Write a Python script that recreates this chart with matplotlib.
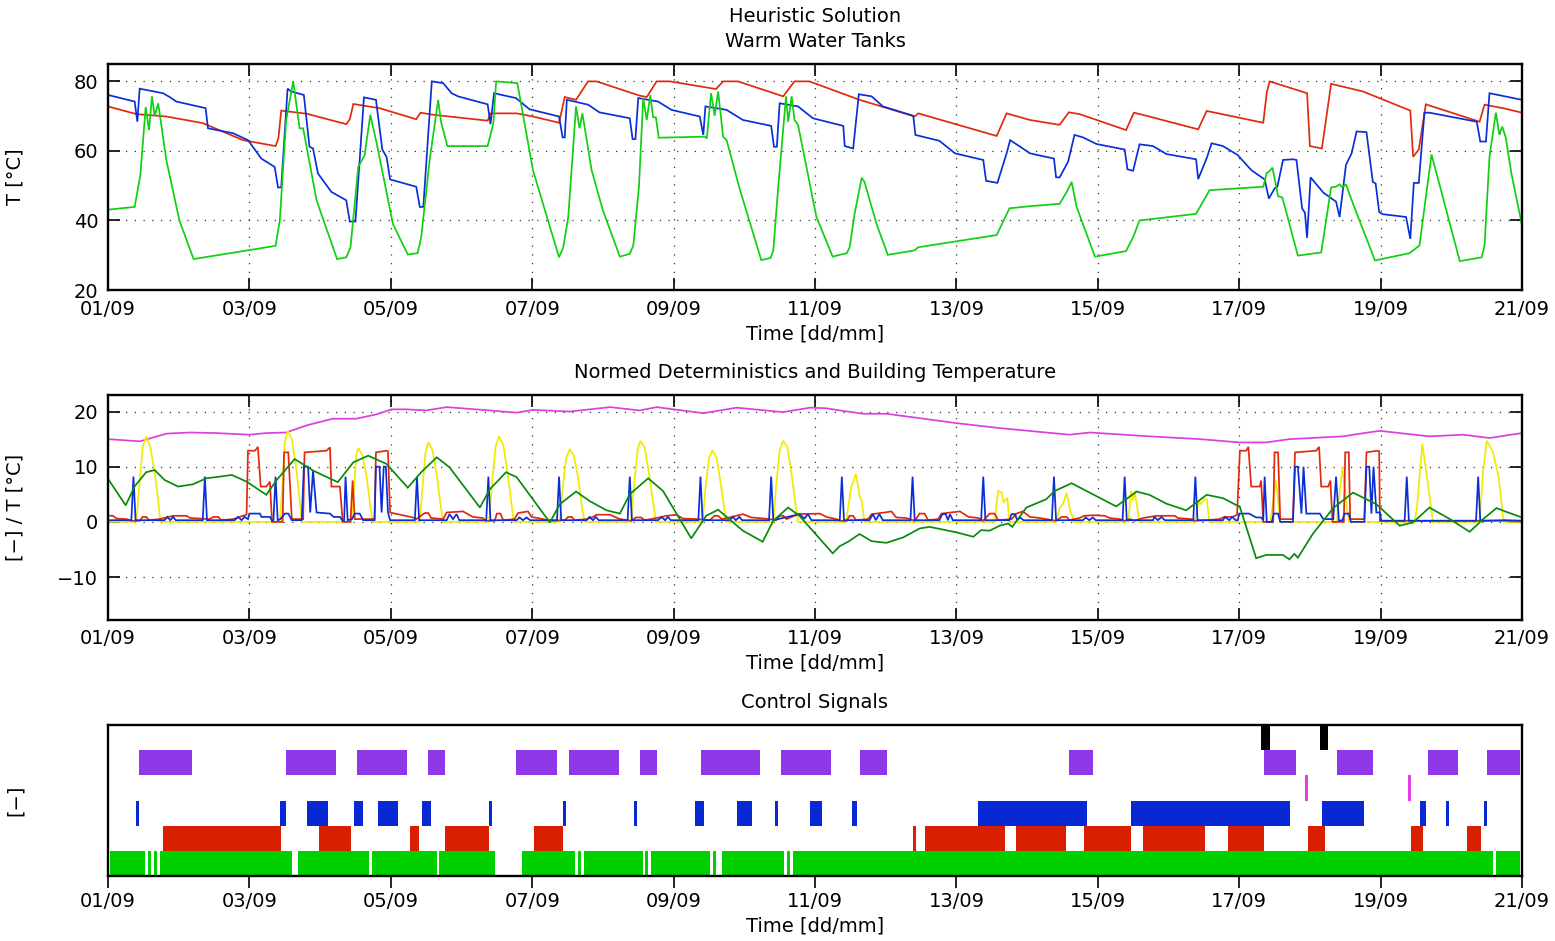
import matplotlib
matplotlib.use("Agg")
import matplotlib.pyplot as plt
import numpy as np

plt.rcParams['font.family'] = ['DejaVu Sans']
plt.rcParams['axes.unicode_minus'] = True

# ---------------------------------------------------------------- data
# time axis: days since 01/09
tick_days = [0, 2, 4, 6, 8, 10, 12, 14, 16, 18, 20]
tick_labels = ['01/09', '03/09', '05/09', '07/09', '09/09', '11/09',
               '13/09', '15/09', '17/09', '19/09', '21/09']

# warm water tanks [°C]
tank_red = [(0, 72.8), (0.40, 70.6), (0.825, 69.9), (1.34, 68.0), (1.91, 63.1), (2.37, 61.4),
            (2.41, 63.6), (2.45, 71.6), (2.81, 70.7), (3.37, 67.7), (3.42, 69.1), (3.47, 73.5),
            (3.84, 72.3), (4.36, 69.1), (4.42, 71.0), (4.6, 70.4), (5.37, 68.7), (5.41, 70.8),
            (5.78, 70.8), (6.01, 69.9), (6.38, 68.1), (6.46, 75.5), (6.62, 74.7), (6.79, 80),
            (6.91, 80), (7.52, 75.9), (7.62, 75.5), (7.76, 80), (7.95, 80), (8.6, 77.8),
            (8.7, 80), (8.91, 80), (9.55, 75.7), (9.71, 80), (9.92, 80), (10.63, 74.7),
            (11.41, 69.9), (11.46, 70.8), (12.57, 64.3), (12.71, 70.8), (13.04, 68.9),
            (13.46, 67.5), (13.59, 71.1), (13.74, 70.6), (14.4, 66.0), (14.51, 71.0),
            (14.69, 70.1), (15.42, 66.2), (15.54, 71.5), (16.34, 68.1), (16.39, 76.8),
            (16.43, 80), (16.96, 76.6), (17.0, 61.4), (17.17, 60.7), (17.3, 79.3),
            (17.75, 77.1), (18.42, 71.6), (18.46, 58.3), (18.54, 60.4), (18.64, 73.4),
            (19.4, 68.4), (19.47, 73.3), (19.73, 72.3), (20.0, 71.0)]

tank_blue = [(0, 76.1), (0.377, 74.2), (0.415, 68.4), (0.448, 77.9), (0.778, 76.6), (0.872, 75.5),
             (0.967, 74.2), (1.381, 72.3), (1.414, 66.5), (1.768, 65.1), (1.98, 63.1), (2.169, 57.8),
             (2.357, 55.4), (2.405, 49.5), (2.45, 49.5), (2.54, 77.9), (2.59, 77.1), (2.77, 76.1),
             (2.85, 61.2), (2.90, 60.7), (2.97, 53.5), (3.16, 48.2), (3.37, 45.8), (3.42, 39.7),
             (3.50, 39.7), (3.62, 75.4), (3.79, 74.7), (3.88, 60.4), (3.94, 58.3), (3.99, 51.8),
             (4.36, 49.7), (4.41, 43.9), (4.46, 43.9), (4.58, 80), (4.74, 79.5), (4.86, 76.6),
             (4.95, 75.7), (5.37, 73.4), (5.41, 67.7), (5.46, 76.6), (5.77, 75.2), (5.96, 72.0),
             (6.38, 69.9), (6.43, 63.9), (6.46, 63.9), (6.49, 74.7), (6.79, 73.3), (6.95, 71.1),
             (7.38, 69.4), (7.42, 63.4), (7.46, 63.4), (7.50, 75.2), (7.78, 74.2), (7.97, 71.8),
             (8.37, 69.9), (8.42, 64.6), (8.45, 72.8), (8.75, 71.8), (8.98, 68.9), (9.38, 67.2),
             (9.42, 61.2), (9.46, 61.2), (9.50, 73.7), (9.76, 72.8), (9.97, 69.4), (10.4, 67.2),
             (10.42, 61.4), (10.54, 60.7), (10.62, 76.3), (10.8, 75.7), (10.96, 72.8),
             (11.39, 70.1), (11.42, 64.6), (11.76, 62.9), (11.98, 59.3), (12.38, 57.4),
             (12.42, 51.4), (12.58, 50.8), (12.71, 59.3), (12.76, 63.1), (12.94, 60.7),
             (13.04, 59.3), (13.38, 57.8), (13.41, 52.4), (13.46, 52.4), (13.58, 56.9),
             (13.67, 64.6), (13.79, 63.9), (13.98, 62.0), (14.38, 60.4), (14.42, 54.7),
             (14.5, 54.3), (14.59, 61.9), (14.78, 61.4), (14.97, 59.1), (15.39, 57.6),
             (15.42, 51.9), (15.54, 57.9), (15.61, 62.2), (15.77, 61.4), (15.98, 58.8),
             (16.17, 54.5), (16.36, 51.8), (16.42, 46.3), (16.5, 49.2), (16.54, 49.7),
             (16.62, 57.4), (16.76, 57.6), (16.81, 57.4), (16.89, 43.5), (16.93, 42.2),
             (16.96, 35.0), (17.01, 52.4), (17.19, 48.0), (17.37, 45.4), (17.42, 41.0),
             (17.51, 56.0), (17.59, 59.3), (17.66, 65.6), (17.8, 65.4), (17.89, 51.1),
             (17.93, 50.6), (17.98, 42.4), (18.03, 41.8), (18.36, 41.0), (18.42, 34.7),
             (18.47, 50.8), (18.54, 50.8), (18.62, 71.0), (18.69, 71.0), (19.36, 68.4),
             (19.41, 62.7), (19.49, 62.7), (19.54, 76.6), (20.0, 74.7)]

tank_green = [(0, 43.1), (0.377, 43.9), (0.457, 53.0), (0.533, 72.6), (0.58, 66.0), (0.622, 75.7),
              (0.66, 70.1), (0.71, 73.7), (0.825, 57.4), (1.01, 40.0), (1.21, 28.9), (2.37, 32.7),
              (2.43, 40.0), (2.52, 68.9), (2.62, 80), (2.71, 66.5), (2.76, 66.5), (2.95, 45.8),
              (3.24, 28.9), (3.37, 29.4), (3.43, 32.3), (3.54, 55.4), (3.63, 58.8), (3.71, 70.4),
              (3.80, 62.2), (4.03, 39.0), (4.24, 30.2), (4.38, 30.6), (4.43, 35.2), (4.55, 57.4),
              (4.67, 74.7), (4.71, 68.4), (4.80, 61.4), (5.37, 61.4), (5.45, 67.9), (5.49, 80),
              (5.79, 79.5), (6.01, 54.5), (6.38, 29.4), (6.44, 32.3), (6.51, 41.0), (6.62, 72.8),
              (6.67, 66.5), (6.71, 70.8), (6.84, 54.5), (7.0, 42.9), (7.24, 29.6), (7.38, 30.4),
              (7.43, 32.8), (7.51, 49.7), (7.57, 75.2), (7.62, 68.9), (7.67, 76.1), (7.71, 69.7),
              (7.75, 69.6), (7.79, 63.8), (8.44, 64.1), (8.47, 63.6), (8.53, 76.6), (8.58, 70.1),
              (8.63, 77.1), (8.7, 64.1), (8.75, 63.1), (8.94, 48.7), (9.24, 28.6), (9.37, 29.2),
              (9.41, 31.3), (9.48, 49.7), (9.59, 75.7), (9.62, 68.4), (9.67, 75.7), (9.71, 68.9),
              (9.76, 67.5), (10.02, 41.0), (10.25, 29.6), (10.45, 30.6), (10.49, 32.3),
              (10.56, 41.9), (10.66, 52.3), (10.7, 51.1), (10.87, 39.0), (11.03, 30.1),
              (11.41, 31.4), (11.46, 32.3), (12.57, 35.8), (12.75, 43.5), (13.04, 44.1),
              (13.46, 44.8), (13.56, 48.2), (13.63, 51.1), (13.7, 43.9), (13.96, 29.6),
              (14.4, 31.2), (14.5, 35.2), (14.59, 40.0), (15.39, 41.9), (15.58, 48.7),
              (16.34, 49.7), (16.39, 53.7), (16.42, 54.0), (16.47, 55.2), (16.55, 47.0),
              (16.61, 46.6), (16.83, 29.9), (17.16, 30.8), (17.3, 49.5), (17.37, 49.7),
              (17.42, 50.4), (17.46, 49.5), (17.51, 50.4), (17.61, 44.8), (17.92, 28.5),
              (18.41, 30.6), (18.55, 32.8), (18.72, 59.0), (19.12, 28.3), (19.43, 29.4),
              (19.47, 32.8), (19.54, 58.3), (19.63, 71.0), (19.68, 64.6), (19.72, 67.0),
              (19.77, 63.9), (19.85, 53.5), (20.0, 38.6)]

# normed deterministics [-] and building temperature [°C]
building_temp = [(0, 15.0), (0.45, 14.6), (0.83, 16.0), (1.16, 16.2), (1.53, 16.1), (2.0, 15.8),
                 (2.24, 16.1), (2.52, 16.2), (2.81, 17.5), (3.18, 18.7), (3.51, 18.7), (3.8, 19.5),
                 (4.01, 20.4), (4.22, 20.4), (4.5, 20.2), (4.79, 20.8), (5.30, 20.3), (5.78, 19.8),
                 (6.01, 20.3), (6.53, 20.0), (7.1, 20.8), (7.52, 20.2), (7.76, 20.8), (8.42, 19.7),
                 (8.89, 20.7), (9.55, 19.9), (9.93, 20.7), (10.16, 20.6), (10.3, 20.3),
                 (10.68, 19.6), (11.01, 19.6), (12.0, 17.9), (12.61, 17.0), (13.6, 15.8),
                 (13.89, 16.2), (14.73, 15.5), (15.44, 15.0), (16.01, 14.4), (16.38, 14.4),
                 (16.71, 15.0), (17.47, 15.5), (17.66, 15.9), (17.99, 16.5), (18.69, 15.5),
                 (19.17, 15.8), (19.54, 15.2), (20.0, 16.1)]

outdoor_temp = [(0, 7.8), (0.25, 3.0), (0.38, 6.5), (0.54, 9.0), (0.66, 9.4), (0.80, 7.6),
                (0.99, 6.4), (1.2, 6.8), (1.39, 7.9), (1.58, 8.2), (1.75, 8.5), (1.96, 7.3),
                (2.24, 4.9), (2.38, 7.5), (2.64, 11.4), (2.9, 9.3), (3.25, 7.2), (3.47, 10.8),
                (3.68, 12.0), (3.94, 10.5), (4.24, 6.2), (4.43, 9.0), (4.65, 11.7), (4.83, 9.9),
                (5.26, 2.6), (5.4, 5.9), (5.63, 9.0), (5.78, 8.1), (6.25, -0.1), (6.39, 3.2),
                (6.62, 5.5), (6.81, 3.8), (7.05, 2.1), (7.24, 1.5), (7.38, 5.0), (7.64, 7.9),
                (7.85, 5.6), (8.25, -3.0), (8.46, 1.1), (8.63, 2.2), (8.98, -1.6), (9.26, -3.6),
                (9.41, 0.2), (9.62, 2.6), (9.78, 1.1), (10.25, -5.7), (10.35, -4.4),
                (10.47, -3.6), (10.63, -2.2), (10.8, -3.5), (11.01, -3.8), (11.25, -2.8),
                (11.48, -1.2), (11.62, -0.9), (12.0, -1.9), (12.24, -2.7), (12.35, -1.5),
                (12.47, -1.6), (12.61, -0.7), (12.73, -0.3), (12.79, -0.9), (12.99, 2.6),
                (13.27, 4.1), (13.39, 5.6), (13.63, 7.0), (13.93, 5.0), (14.26, 2.8),
                (14.55, 5.5), (14.73, 4.9), (14.97, 3.3), (15.25, 2.1), (15.54, 4.9),
                (15.77, 4.3), (16.01, 2.7), (16.24, -6.6), (16.38, -6.0), (16.62, -6.0),
                (16.71, -6.8), (16.78, -5.8), (16.83, -6.5), (17.04, -2.2), (17.33, 2.5),
                (17.61, 5.3), (17.94, 3.2), (18.27, -0.7), (18.46, -0.1), (18.69, 2.6),
                (18.98, 0.5), (19.26, -1.8), (19.45, 0.5), (19.64, 2.5), (19.76, 1.9),
                (20.0, 0.8)]

solar_norm = [(0, 0), (0.40, 0), (0.44, 6.0), (0.49, 13.5), (0.54, 15.5), (0.60, 13.5), (0.66, 9.0),
              (0.71, 4.0), (0.74, 0),
              (2.43, 0), (2.47, 7.0), (2.50, 14.5), (2.54, 16.5), (2.60, 15.0), (2.66, 10.0),
              (2.71, 4.0), (2.74, 0),
              (3.44, 0), (3.48, 6.0), (3.51, 12.0), (3.54, 13.4), (3.60, 12.0), (3.66, 8.0),
              (3.71, 3.0), (3.74, 0),
              (4.41, 0), (4.45, 6.5), (4.49, 12.5), (4.53, 14.4), (4.59, 13.0), (4.65, 8.5),
              (4.70, 3.5), (4.74, 0),
              (5.39, 0), (5.43, 6.5), (5.48, 13.5), (5.53, 15.5), (5.59, 14.0), (5.65, 9.0),
              (5.70, 4.0), (5.74, 0),
              (6.39, 0), (6.43, 6.0), (6.48, 11.5), (6.53, 13.2), (6.59, 12.0), (6.65, 8.0),
              (6.70, 3.0), (6.74, 0),
              (7.40, 0), (7.44, 6.5), (7.49, 13.0), (7.53, 14.7), (7.59, 13.5), (7.65, 9.0),
              (7.71, 3.5), (7.75, 0),
              (8.41, 0), (8.45, 6.0), (8.50, 11.5), (8.55, 13.0), (8.61, 11.5), (8.66, 7.5),
              (8.71, 3.0), (8.74, 0),
              (9.41, 0), (9.45, 6.5), (9.50, 13.0), (9.55, 14.7), (9.61, 13.5), (9.67, 8.5),
              (9.72, 3.5), (9.76, 0),
              (10.44, 0), (10.51, 6.2), (10.58, 8.7), (10.63, 4.7), (10.66, 3.8), (10.70, 0),
              (12.54, 0), (12.59, 5.6), (12.64, 5.3), (12.67, 3.5), (12.72, 4.4), (12.75, 0),
              (13.41, 0), (13.46, 2.5), (13.51, 3.3), (13.56, 5.3), (13.61, 2.0), (13.67, 0),
              (14.43, 0), (14.47, 5.6), (14.50, 3.8), (14.52, 5.6), (14.58, 0.8), (14.59, 0),
              (15.37, 0), (15.43, 3.8), (15.46, 3.2), (15.51, 4.1), (15.54, 4.1), (15.58, 0),
              (16.44, 0), (16.52, 7.5), (16.58, 0),
              (17.38, 0), (17.46, 10.0), (17.52, 3.0), (17.55, 0),
              (18.48, 0), (18.51, 2.0), (18.59, 14.2), (18.67, 6.8), (18.74, 0),
              (19.40, 0), (19.45, 9.0), (19.50, 14.7), (19.59, 12.7), (19.67, 8.1), (19.74, 0),
              (20.0, 0)]

demand_red = [(0, 1.1), (0.07, 1.1), (0.12, 0.6), (0.26, 0.5), (0.33, 0.2), (0.45, 0.2), (0.49, 0.9),
              (0.54, 0.9), (0.58, 0.3), (0.73, 0.5), (0.92, 1.1), (1.11, 1.1), (1.16, 0.7),
              (1.44, 0.5), (1.49, 0.9), (1.56, 0.9), (1.6, 0.3), (1.77, 0.5), (1.86, 0.9),
              (1.96, 1.3), (1.98, 12.9), (2.08, 12.9), (2.12, 13.6), (2.16, 6.4), (2.24, 6.4),
              (2.29, 7.3), (2.32, 0.0), (2.47, 0.0), (2.49, 12.6), (2.55, 12.6), (2.6, 0.5),
              (2.76, 0.5), (2.78, 12.6), (3.09, 12.9), (3.14, 13.5), (3.16, 6.4), (3.28, 6.4),
              (3.32, 0.0), (3.43, 0.0), (3.46, 7.5), (3.49, 0.5), (3.77, 0.5), (3.79, 12.6),
              (3.94, 12.9), (3.96, 12.8), (3.99, 1.7), (4.31, 0.8), (4.36, 0.5), (4.48, 1.6),
              (4.53, 1.6), (4.57, 0.7), (4.74, 0.5), (4.79, 1.7), (5.02, 1.9), (5.16, 0.9),
              (5.3, 0.7), (5.35, 0.2), (5.47, 0.2), (5.5, 1.5), (5.55, 1.5), (5.59, 0.3),
              (5.75, 0.5), (5.8, 1.6), (5.94, 1.9), (5.99, 0.9), (6.15, 0.5), (6.25, 0.2),
              (6.46, 0.3), (6.51, 0.9), (6.56, 0.9), (6.6, 0.3), (6.77, 0.5), (6.86, 0.9),
              (6.91, 1.3), (7.1, 1.3), (7.24, 0.5), (7.4, 0.2), (7.47, 0.8), (7.54, 0.8),
              (7.59, 0.3), (7.76, 0.7), (7.9, 1.1), (8.04, 1.3), (8.13, 0.6), (8.32, 0.5),
              (8.51, 0.3), (8.58, 1.1), (8.63, 1.1), (8.68, 0.5), (8.79, 0.8), (8.98, 1.4),
              (9.1, 0.8), (9.29, 0.6), (9.45, 0.3), (9.5, 1.1), (9.55, 1.1), (9.6, 0.5),
              (9.76, 1.4), (10.07, 1.5), (10.16, 0.9), (10.3, 0.5), (10.35, 0.2), (10.45, 0.2),
              (10.49, 1.1), (10.54, 1.1), (10.58, 0.3), (10.75, 0.5), (10.8, 1.4), (10.99, 1.7),
              (11.08, 1.9), (11.15, 0.8), (11.29, 0.7), (11.41, 0.2), (11.48, 1.5), (11.55, 1.5),
              (11.6, 0.3), (11.74, 0.5), (11.79, 1.5), (12.05, 1.9), (12.17, 0.9), (12.31, 0.7),
              (12.38, 0.2), (12.47, 1.5), (12.54, 1.5), (12.59, 0.3), (12.78, 0.5), (12.85, 1.5),
              (12.94, 1.9), (13.04, 0.9), (13.18, 0.7), (13.41, 0.2), (13.49, 0.9), (13.56, 0.9),
              (13.6, 0.3), (13.74, 0.7), (13.81, 1.1), (13.93, 1.2), (14.1, 1.1), (14.17, 0.7),
              (14.31, 0.5), (14.38, 0.2), (14.45, 0.5), (14.52, 0.2), (14.64, 0.7), (14.83, 1.1),
              (15.09, 1.1), (15.13, 0.7), (15.32, 0.5), (15.37, 0.2), (15.54, 0.3), (15.72, 0.5),
              (15.79, 0.9), (15.91, 0.9), (15.97, 1.3), (16.01, 12.9), (16.1, 12.9),
              (16.13, 13.6), (16.17, 6.4), (16.29, 6.4), (16.31, 7.5), (16.34, 0.0), (16.48, 0.0),
              (16.5, 12.6), (16.55, 12.6), (16.58, 0.5), (16.76, 0.5), (16.79, 12.6),
              (17.09, 12.9), (17.13, 13.6), (17.16, 6.4), (17.26, 6.4), (17.29, 7.5), (17.32, 0.0),
              (17.48, 0.0), (17.5, 12.6), (17.55, 12.6), (17.57, 0.5), (17.77, 0.5), (17.8, 12.6),
              (17.95, 12.9), (17.98, 12.8), (17.99, 0.2), (20.0, 0.2)]

demand_blue = [(0, 0.3), (0.33, 0.3), (0.36, 8.2), (0.39, 0.3), (0.80, 0.3), (0.84, 0.9), (0.88, 0.3),
               (0.92, 0.9), (0.96, 0.3), (1.34, 0.3), (1.37, 8.2), (1.40, 0.3), (1.79, 0.3),
               (1.84, 0.9), (1.89, 0.3), (1.93, 0.9), (1.98, 0.5), (2.0, 1.5), (2.15, 1.5),
               (2.17, 0.9), (2.29, 0.9), (2.32, 0.2), (2.34, 0.3), (2.37, 8.2), (2.40, 0.3),
               (2.44, 0.5), (2.5, 1.5), (2.55, 1.5), (2.6, 0.3), (2.74, 0.3), (2.77, 10.0),
               (2.83, 10.0), (2.86, 1.7), (2.9, 9.3), (2.95, 1.7), (3.14, 1.5), (3.19, 0.9),
               (3.28, 0.9), (3.32, 0.2), (3.34, 0.3), (3.36, 8.2), (3.39, 0.3), (3.45, 0.5),
               (3.49, 1.5), (3.56, 1.5), (3.61, 0.3), (3.77, 0.3), (3.79, 10.0), (3.84, 10.0),
               (3.87, 1.7), (3.9, 10.0), (3.93, 10.0), (3.96, 1.7), (3.99, 0.3), (4.34, 0.3),
               (4.37, 8.2), (4.40, 0.3), (4.79, 0.3), (4.83, 1.4), (4.88, 0.5), (4.93, 1.4),
               (4.97, 0.3), (5.35, 0.3), (5.38, 8.2), (5.41, 0.3), (5.78, 0.3), (5.82, 0.8),
               (5.87, 0.3), (5.92, 0.8), (5.97, 0.3), (6.35, 0.3), (6.38, 8.2), (6.41, 0.3),
               (6.77, 0.3), (6.81, 0.9), (6.86, 0.3), (6.9, 0.9), (6.94, 0.3), (7.35, 0.3),
               (7.38, 8.2), (7.41, 0.3), (7.78, 0.3), (7.83, 0.9), (7.88, 0.3), (7.92, 0.9),
               (7.96, 0.3), (8.35, 0.3), (8.38, 8.2), (8.41, 0.3), (8.79, 0.3), (8.84, 0.9),
               (8.88, 0.3), (8.93, 0.9), (8.97, 0.3), (9.35, 0.3), (9.38, 8.2), (9.41, 0.3),
               (9.78, 1.4), (9.85, 0.6), (9.9, 1.4), (9.95, 0.3), (10.35, 0.3), (10.38, 8.2),
               (10.41, 0.3), (10.77, 0.3), (10.82, 1.4), (10.86, 0.3), (10.91, 1.4), (10.96, 0.3),
               (11.35, 0.3), (11.38, 8.2), (11.41, 0.3), (11.76, 0.3), (11.8, 1.4), (11.85, 1.4),
               (11.88, 0.3), (11.91, 1.4), (11.95, 0.3), (12.35, 0.3), (12.38, 8.2), (12.41, 0.3),
               (12.75, 0.3), (12.78, 1.4), (12.83, 1.4), (12.86, 0.3), (12.9, 0.8), (12.95, 0.3),
               (13.35, 0.3), (13.38, 8.2), (13.41, 0.3), (13.79, 0.3), (13.83, 0.8), (13.88, 0.3),
               (13.93, 0.8), (13.97, 0.3), (14.35, 0.3), (14.38, 8.2), (14.41, 0.3), (14.78, 0.3),
               (14.8, 0.9), (14.85, 0.3), (14.9, 0.9), (14.95, 0.3), (15.35, 0.3), (15.38, 8.2),
               (15.41, 0.3), (15.77, 0.3), (15.8, 0.9), (15.86, 0.3), (15.9, 0.9), (15.95, 0.3),
               (15.98, 0.3), (16.0, 1.5), (16.14, 1.5), (16.24, 0.8), (16.31, 0.8), (16.34, 0.3),
               (16.36, 8.2), (16.39, 0.0), (16.46, 0.0), (16.49, 1.5), (16.55, 1.5), (16.58, 0.0),
               (16.76, 0.0), (16.79, 10.0), (16.83, 10.0), (16.88, 1.5), (16.91, 10.0),
               (16.95, 1.5), (17.14, 1.5), (17.19, 0.5), (17.33, 0.5), (17.37, 8.2), (17.41, 0.2),
               (17.46, 0.3), (17.49, 1.5), (17.55, 1.5), (17.58, 0.0), (17.77, 0.0), (17.8, 10.0),
               (17.84, 10.0), (17.87, 1.5), (17.9, 10.0), (17.94, 1.7), (17.99, 1.7), (18.01, 0.2),
               (18.34, 0.2), (18.37, 8.2), (18.40, 0.2), (19.35, 0.2), (19.38, 8.2), (19.41, 0.2),
               (19.75, 0.3), (20.0, 0.2)]

# control signals: on-intervals (start day, end day) for each signal row
sig_green = [(0.028, 0.523), (0.570, 0.608), (0.651, 0.693), (0.735, 2.598), (2.687, 3.687),
             (3.734, 4.649), (4.682, 5.474), (5.856, 6.601), (6.648, 6.686), (6.733, 7.567),
             (7.600, 7.638), (7.680, 8.515), (8.562, 8.596), (8.685, 9.562), (9.604, 9.642),
             (9.693, 19.585), (19.632, 19.972)]
sig_red = [(0.778, 2.447), (2.984, 3.437), (4.272, 4.399), (4.767, 5.389), (6.025, 6.436),
           (11.386, 11.429), (11.556, 12.687), (12.843, 13.55), (13.805, 14.47), (14.64, 15.516),
           (15.842, 16.351), (16.973, 17.213), (18.43, 18.6), (19.222, 19.42)]
sig_blue = [(0.396, 0.438), (2.433, 2.518), (2.815, 3.112), (3.479, 3.607), (3.819, 4.102),
            (4.441, 4.569), (5.389, 5.431), (6.436, 6.478), (7.440, 7.482), (8.303, 8.430),
            (8.897, 9.109), (9.434, 9.477), (9.929, 10.099), (10.523, 10.594), (12.305, 13.847),
            (14.47, 16.719), (17.171, 17.765), (18.557, 18.642), (18.925, 18.967), (19.463, 19.505)]
sig_pink = [(16.931, 16.973), (18.388, 18.430)]
sig_purple = [(0.438, 1.188), (2.518, 3.225), (3.522, 4.229), (4.526, 4.767), (5.771, 6.351),
              (6.521, 7.228), (7.525, 7.765), (8.388, 9.222), (9.519, 10.226), (10.636, 11.018),
              (13.593, 13.932), (16.351, 16.803), (17.383, 17.892), (18.670, 19.095),
              (19.505, 19.972)]
sig_black = [(16.308, 16.435), (17.143, 17.256)]

# ---------------------------------------------------------------- figure
W, H = 1555, 941
fig = plt.figure(figsize=(W / 100, H / 100), dpi=100)
FS = 14
LW = 1.25


def frame(x0, top, x1, bottom):
    return [x0 / W, 1 - bottom / H, (x1 - x0) / W, (bottom - top) / H]


ax1 = fig.add_axes(frame(108, 64, 1522, 290))
ax2 = fig.add_axes(frame(108, 395, 1522, 619.5))
ax3 = fig.add_axes(frame(108, 725, 1522, 876))


def style_line_axes(ax):
    ax.set_xlim(0, 20)
    ax.set_xticks(tick_days)
    ax.set_xticklabels(tick_labels)
    ax.tick_params(direction='in', length=8.5, width=1.2, top=True, right=True,
                   labelsize=FS, pad=7, colors='black')
    ax.grid(True, linestyle=(0, (1, 6)), linewidth=0.9, color='0.2')
    for s in ax.spines.values():
        s.set_linewidth(1.7)
    ax.set_xlabel('Time [dd/mm]', fontsize=FS, labelpad=4)


def plot_series(ax, pairs, color, lw=LW):
    d = np.array(pairs, dtype=float)
    ax.plot(d[:, 0], d[:, 1], color=color, lw=lw, solid_joinstyle='miter')


# --- warm water tanks
plot_series(ax1, tank_red, '#e02a0c')
plot_series(ax1, tank_blue, '#0a2fd6')
plot_series(ax1, tank_green, '#10d010')
ax1.set_ylim(20, 85)
ax1.set_yticks([20, 40, 60, 80])
style_line_axes(ax1)
ax1.set_title('Heuristic Solution\nWarm Water Tanks', fontsize=FS, pad=12, linespacing=1.4)
ax1.set_ylabel('T [°C]', fontsize=FS)
ax1.yaxis.set_label_coords(-0.0587, 0.5)

# --- deterministics and building temperature
plot_series(ax2, building_temp, '#dd3ee0')
plot_series(ax2, solar_norm, '#f2ea00')
plot_series(ax2, demand_red, '#e02a0c')
plot_series(ax2, demand_blue, '#0a2fd6')
plot_series(ax2, outdoor_temp, '#0a8a0a')
ax2.set_ylim(-17.7, 23)
ax2.set_yticks([-10, 0, 10, 20])
style_line_axes(ax2)
ax2.set_title('Normed Deterministics and Building Temperature', fontsize=FS, pad=12)
ax2.set_ylabel('[−] / T [°C]', fontsize=FS)
ax2.yaxis.set_label_coords(-0.0587, 0.5)

# --- control signals
rows = [(sig_green, '#00d000'), (sig_red, '#d82000'), (sig_blue, '#0828d4'),
        (sig_pink, '#e040e0'), (sig_purple, '#8e38e8'), (sig_black, '#000000')]
for level, (intervals, color) in enumerate(rows):
    spans = [(a, b - a) for a, b in intervals]
    ax3.broken_barh(spans, (level, 1), facecolors=color, edgecolor='none')
ax3.set_xlim(0, 20)
ax3.set_ylim(0, 6)
ax3.set_yticks([])
ax3.set_xticks(tick_days)
ax3.set_xticklabels(tick_labels)
ax3.tick_params(axis='x', direction='out', length=8.5, width=1.2, labelsize=FS, pad=3)
for s in ax3.spines.values():
    s.set_linewidth(1.7)
ax3.set_xlabel('Time [dd/mm]', fontsize=FS, labelpad=4)
ax3.set_title('Control Signals', fontsize=FS, pad=12)
ax3.set_ylabel('[−]', fontsize=FS)
ax3.yaxis.set_label_coords(-0.0587, 0.5)

fig.savefig('out.png', dpi=100)
